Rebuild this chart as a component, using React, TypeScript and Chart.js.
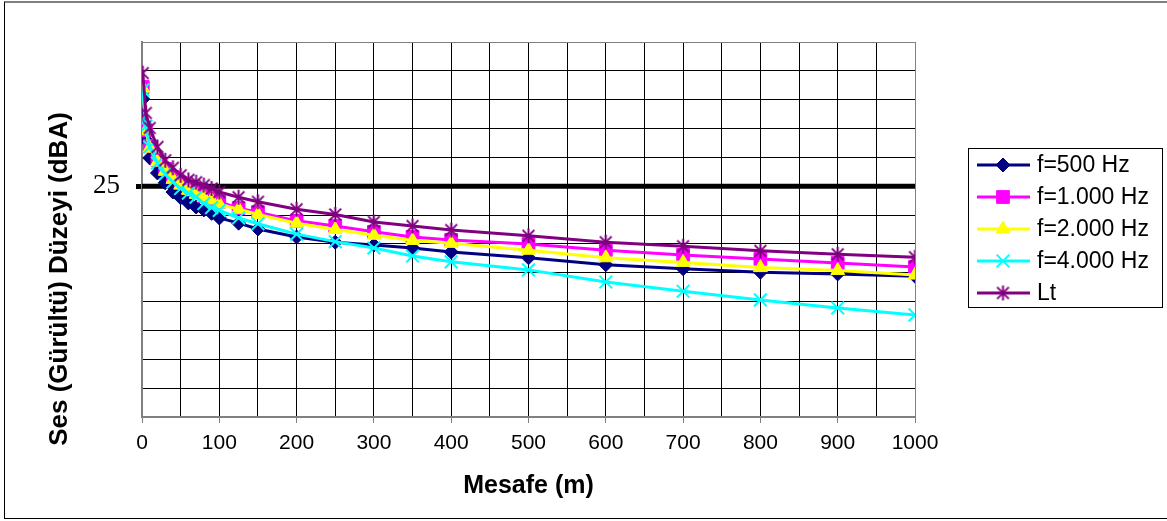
import React, { useEffect, useRef } from 'react';
import { Chart, registerables } from 'chart.js';
import { drawPoint } from 'chart.js/helpers';

Chart.register(...registerables);

// ---- data ----
const distances = [1, 5, 10, 20, 30, 40, 50, 60, 70, 80, 90, 100, 125, 150, 200, 250, 300, 350, 400, 500, 600, 700, 800, 900, 1000];
const f500 = [40.1, 33.0, 29.9, 27.3, 25.6, 24.0, 23.0, 22.1, 21.4, 20.9, 20.3, 19.5, 18.6, 17.6, 16.2, 15.3, 14.8, 14.3, 13.6, 12.6, 11.4, 10.7, 10.1, 9.8, 9.4];
const f1000 = [42.2, 34.7, 32.0, 29.5, 28.0, 26.6, 25.6, 24.7, 24.0, 23.3, 22.8, 22.3, 21.2, 20.5, 19.0, 18.1, 17.1, 16.2, 15.7, 15.0, 13.9, 13.1, 12.4, 11.7, 11.0];
const f2000 = [42.0, 34.6, 31.6, 29.2, 27.6, 26.2, 25.2, 24.3, 23.6, 23.1, 22.6, 21.9, 21.0, 20.1, 18.6, 17.5, 16.5, 15.6, 15.1, 13.9, 12.6, 11.8, 10.9, 10.4, 9.6];
const f4000 = [41.7, 35.4, 31.8, 29.0, 27.1, 25.7, 24.6, 23.8, 23.1, 22.0, 21.3, 20.8, 19.5, 18.5, 16.7, 15.4, 14.3, 12.9, 11.9, 10.5, 8.4, 6.8, 5.3, 3.9, 2.7];
const lt = [44.6, 37.7, 35.1, 31.8, 29.5, 28.2, 26.9, 26.1, 25.7, 25.2, 24.6, 24.0, 23.1, 22.3, 21.0, 20.1, 18.8, 18.1, 17.4, 16.4, 15.3, 14.6, 13.8, 13.2, 12.7];
const limitLevel = 25;
const seriesLabels = ['f=500 Hz', 'f=1.000 Hz', 'f=2.000 Hz', 'f=4.000 Hz', 'Lt'];
const xTitle = 'Mesafe (m)';
const yTitle = 'Ses (Gürültü) Düzeyi (dBA)';
const xMin = 0, xMax = 1000, xStep = 50, xLabelStep = 100;
const yMin = -15, yMax = 50, yStep = 5;

const SANS = "'Liberation Sans', Arial, sans-serif";
const SERIF = "'Liberation Serif', 'Times New Roman', serif";

function makeStar(color: string, size: number) {
  const c = document.createElement('canvas');
  c.width = size;
  c.height = size;
  const g = c.getContext('2d')!;
  g.strokeStyle = color;
  g.lineWidth = 2;
  const m = size / 2;
  const r = size / 2 - 1;
  const d = r * 0.78;
  g.beginPath();
  g.moveTo(m, m - r);
  g.lineTo(m, m + r);
  g.moveTo(m - d, m - d);
  g.lineTo(m + d, m + d);
  g.moveTo(m + d, m - d);
  g.lineTo(m - d, m + d);
  g.stroke();
  return c;
}

const pts = (arr: number[]) => distances.map((d, i) => ({ x: d, y: arr[i] }));

const legendPlugin = {
  id: 'boxLegend',
  afterDraw(chart: any) {
    const ctx = chart.ctx as CanvasRenderingContext2D;
    const items = chart.data.datasets.filter((d: any) => !d.noLegend);
    ctx.save();
    ctx.fillStyle = '#fff';
    ctx.fillRect(968, 148, 195, 160);
    ctx.strokeStyle = '#000';
    ctx.lineWidth = 1;
    ctx.strokeRect(968.5, 148.5, 194, 159);
    items.forEach((ds: any, i: number) => {
      const y = 165 + i * 32;
      ctx.strokeStyle = ds.borderColor;
      ctx.lineWidth = 3;
      ctx.beginPath();
      ctx.moveTo(977, y);
      ctx.lineTo(1030, y);
      ctx.stroke();
      ctx.fillStyle = ds.pointBackgroundColor;
      ctx.strokeStyle = ds.pointBorderColor;
      ctx.lineWidth = ds.pointBorderWidth;
      drawPoint(ctx, { pointStyle: ds.pointStyle, radius: ds.pointRadius, borderWidth: ds.pointBorderWidth, rotation: 0 } as any, 1003, y);
      ctx.fillStyle = '#000';
      ctx.font = `23px ${SANS}`;
      ctx.textBaseline = 'middle';
      ctx.textAlign = 'left';
      ctx.fillText(ds.label, 1037, y + 1);
    });
    ctx.restore();
  },
};

export default function App() {
  const canvasRef = useRef<HTMLCanvasElement | null>(null);

  useEffect(() => {
    document.body.style.margin = '0';
    const canvas = canvasRef.current;
    if (!canvas) return;
    const star = makeStar('#800080', 17);

    const mk = (label: string, arr: number[], color: string, style: any, radius: number, fill: string, bw: number, order: number) => ({
      label,
      data: pts(arr),
      borderColor: color,
      backgroundColor: color,
      borderWidth: 3,
      pointStyle: style,
      pointRadius: radius,
      pointHoverRadius: radius,
      pointBackgroundColor: fill,
      pointBorderColor: color,
      pointBorderWidth: bw,
      tension: 0,
      order,
    });

    const chart = new Chart(canvas, {
      type: 'line',
      data: {
        datasets: [
          mk(seriesLabels[0], f500, '#000080', 'rectRot', 7, '#000080', 1, 4),
          mk(seriesLabels[1], f1000, '#FF00FF', 'rect', 9, '#FF00FF', 1, 3),
          mk(seriesLabels[2], f2000, '#FFFF00', 'triangle', 8, '#FFFF00', 1, 2),
          mk(seriesLabels[3], f4000, '#00FFFF', 'crossRot', 9, '#00FFFF', 2, 1),
          mk(seriesLabels[4], lt, '#800080', star, 8.5, '#800080', 1, 0),
          {
            label: '25',
            data: [{ x: xMin, y: limitLevel }, { x: xMax, y: limitLevel }],
            borderColor: '#000',
            backgroundColor: '#000',
            borderWidth: 5,
            pointRadius: 0,
            order: 10,
            noLegend: true,
          } as any,
        ],
      },
      options: {
        responsive: false,
        animation: false,
        devicePixelRatio: 1,
        layout: { padding: { left: 0, top: 42, right: 252, bottom: 20 } },
        plugins: { legend: { display: false }, tooltip: { enabled: false } },
        scales: {
          x: {
            type: 'linear',
            min: xMin,
            max: xMax,
            afterFit: (s: any) => { s.height = 84; },
            border: { color: '#808080', width: 2 },
            grid: {
              color: (c: any) => (c.tick && c.tick.value === xMax ? '#808080' : '#000'),
              lineWidth: 1,
              drawTicks: true,
              tickLength: 6,
              tickColor: (c: any) => (c.tick && c.tick.value % xLabelStep === 0 ? '#808080' : 'rgba(0,0,0,0)'),
            },
            ticks: {
              stepSize: xStep,
              autoSkip: false,
              maxRotation: 0,
              padding: 8,
              color: '#000',
              font: { family: SANS, size: 21 },
              callback: (v: any) => (Number(v) % xLabelStep === 0 ? String(v) : ''),
            },
            title: {
              display: true,
              text: xTitle,
              color: '#000',
              font: { family: SANS, size: 25, weight: 'bold' },
              padding: { top: 0, bottom: 0 },
            },
          },
          y: {
            type: 'linear',
            min: yMin,
            max: yMax,
            afterFit: (s: any) => { s.width = 142; },
            border: { color: '#808080', width: 2 },
            grid: {
              color: (c: any) => (c.tick && c.tick.value === yMax ? '#808080' : '#000'),
              lineWidth: 1,
              drawTicks: true,
              tickLength: 6,
              tickWidth: 5,
              tickColor: (c: any) => (c.tick && c.tick.value === limitLevel ? '#000' : 'rgba(0,0,0,0)'),
            },
            ticks: {
              stepSize: yStep,
              autoSkip: false,
              padding: 16,
              color: '#000',
              font: { family: SERIF, size: 27 },
              callback: (v: any) => (Number(v) === limitLevel ? String(limitLevel) : ''),
            },
            title: { display: false },
          },
        },
      },
      plugins: [legendPlugin],
    } as any);

    return () => chart.destroy();
  }, []);

  return (
    <div style={{ position: 'relative', width: 1167, height: 521, overflow: 'hidden', background: '#fff' }}>
      <canvas ref={canvasRef} width={1167} height={521} style={{ display: 'block', position: 'absolute', left: 0, top: 0 }} />
      <div
        style={{
          position: 'absolute',
          left: 4,
          top: 1,
          width: 1175,
          height: 518,
          boxSizing: 'border-box',
          borderLeft: '1px solid #000',
          borderBottom: '1px solid #000',
          borderTop: '2px solid #808080',
          pointerEvents: 'none',
        }}
      />
      <div
        style={{
          position: 'absolute',
          left: 58,
          top: 279,
          transform: 'translate(-50%, -50%) rotate(-90deg)',
          whiteSpace: 'nowrap',
          font: `bold 26px ${SANS}`,
          color: '#000',
        }}
      >
        {yTitle}
      </div>
    </div>
  );
}
